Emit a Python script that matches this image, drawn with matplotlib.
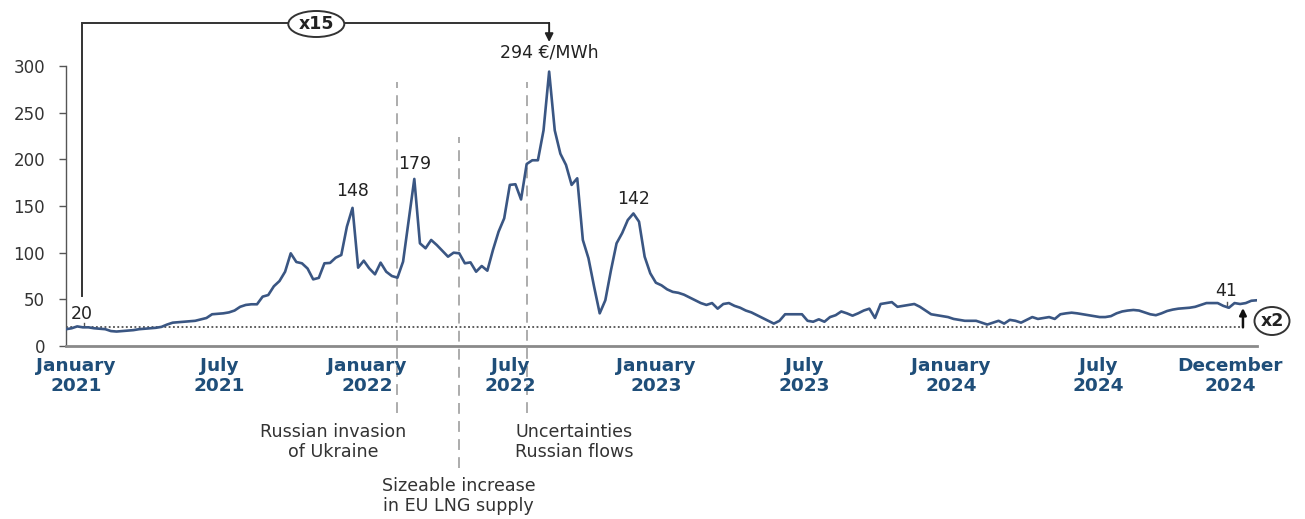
import matplotlib
matplotlib.use("Agg")
import matplotlib.pyplot as plt
from matplotlib.patches import Ellipse
import numpy as np

# Weekly TTF gas price (EUR/MWh), Jan 2021 - Dec 2024
prices = [
    18, 19, 21, 20, 20, 19, 18.5, 18, 16, 15.5, 16, 16.5, 17, 18, 18.5, 19, 19.5,
    20.5, 23, 25, 25.5, 26, 26.5, 27, 28.5, 30, 34, 34.5, 35, 36, 38, 42, 44,
    44.7, 44.7, 52.9, 54.6, 64, 69.6, 79.6, 99.3, 90, 88.6,
    83, 71.4, 73, 88.6, 89, 94.6, 97.5, 127.9, 148, 83.9,
    91.4, 83, 76.8, 89.3, 79.6, 75, 73.2, 90.4, 135, 179,
    110, 104.7, 113.6, 108.2, 102, 95.7, 100, 99.3, 88.6, 89.6,
    79.6, 85.7, 80.7, 102.9, 122.5, 136.8, 172.6, 173.3, 157, 195,
    199, 199, 231, 294, 231, 206, 194, 172.6, 179.7, 113.6,
    94, 63.6, 35, 49, 81, 110, 121, 135, 142, 133.2,
    95.7, 77.9, 67.8, 65, 60.7,
    58, 57, 55, 52, 49, 46, 44, 46, 40, 45,
    46, 43, 41, 38, 36, 33, 30, 27, 24, 27,
    34, 34, 34, 34, 27, 26, 28.6, 26, 31, 33,
    37, 35, 32.5, 35, 38, 40, 30, 45, 46, 47,
    42, 43, 44, 45, 42, 38, 34, 33, 32, 31,
    29, 28, 27, 27, 27, 25, 23, 25, 27, 24,
    28, 27, 25, 28, 31, 29, 30, 31, 29, 34,
    35, 35.7, 35, 34, 33, 32, 31, 31, 32, 35,
    37, 38, 38.6, 38, 36, 34, 33, 35, 37.5, 39,
    40, 40.5, 41, 42, 44, 46, 46, 46, 43, 41,
    46, 45, 46, 48.5, 49,
]

tick_pos = [1.8, 27.2, 53.6, 79.0, 105.0, 131.4, 157.5, 183.7, 207.2]
tick_labels = ["January\n2021", "July\n2021", "January\n2022", "July\n2022",
               "January\n2023", "July\n2023", "January\n2024", "July\n2024",
               "December\n2024"]

event_pos = [59.0, 69.9, 82.0]
event_labels = ["Russian invasion\nof Ukraine", "Sizeable increase\nin EU LNG supply",
                "Uncertainties\nRussian flows"]

baseline = 20
n = len(prices)
x = np.arange(n)

W, H = 1305, 519
fig = plt.figure(figsize=(W / 100, H / 100), dpi=100)
ax = fig.add_axes([66 / W, (H - 346) / H, 1191 / W, 280 / H])

line_color = "#3a5683"
ax.plot(x, prices, color=line_color, lw=1.9, solid_joinstyle="round", zorder=3)
ax.set_xlim(0, n - 1)
ax.set_ylim(0, 300)

# pixel helpers (data units)
ppx = 1191 / (n - 1)
ppy = 280 / 300

# axes styling
for s in ["top", "right"]:
    ax.spines[s].set_visible(False)
ax.spines["left"].set_color("#555555")
ax.spines["left"].set_linewidth(1.0)
ax.spines["bottom"].set_color("#8a8a8a")
ax.spines["bottom"].set_linewidth(2.0)
ax.set_yticks([0, 50, 100, 150, 200, 250, 300])
ax.tick_params(axis="y", length=5, width=1, color="#555555", labelsize=12,
               labelcolor="#333333", pad=10)
ax.set_xticks(tick_pos)
ax.set_xticklabels(tick_labels, fontsize=13.3, fontweight="bold", color="#1f4e79",
                   linespacing=1.1)
ax.tick_params(axis="x", length=0, pad=8)

# baseline dotted line
ax.plot([0, n - 1 - 2.5], [baseline, baseline], color="#333333", lw=1.1,
        ls=(0, (1.2, 1.6)), zorder=2)

# event dashed lines and labels
ev_top = [283, 224, 283]
ev_bot = [-72, -131, -72]
lab_y = [-82, -140, -82]
lab_dx = [-11.5, 0, 8.5]
for p, t, b, lab, ly, dx in zip(event_pos, ev_top, ev_bot, event_labels, lab_y, lab_dx):
    ax.plot([p, p], [b, t], color="#a6a6a6", lw=1.3, ls=(0, (6, 4)),
            clip_on=False, zorder=1)
    ax.text(p + dx, ly, lab, ha="center", va="top", fontsize=12.6, color="#333333",
            linespacing=1.2, clip_on=False)

# peak labels
arr = np.array(prices)
def label_at(i, txt, dy=6, dx=0):
    ax.text(i + dx, arr[i] + dy, txt, ha="center", va="bottom", fontsize=12.5,
            color="#222222")

i148 = int(np.argmax(arr[:55]))
i179 = 55 + int(np.argmax(arr[55:75]))
ipk = int(np.argmax(arr))
i142 = 95 + int(np.argmax(arr[95:115]))
label_at(i148, "148", dy=8)
label_at(i179, "179", dy=6)
label_at(i142, "142", dy=6)
ax.text(ipk, arr[ipk] + 11, "294 \u20ac/MWh", ha="center", va="bottom",
        fontsize=12.5, color="#222222")

# "20" label at start
i20 = 3
ax.text(i20 - 0.2, 25, "20", ha="center", va="bottom", fontsize=12.5, color="#222222")
ax.plot([i20 + 0.2, i20 + 0.2], [22, 25], color="#555555", lw=1, clip_on=False)

# "41" label at end
i41 = n - 6
ax.text(i41 - 0.5, arr[i41] + 8, "41", ha="center", va="bottom", fontsize=12.5,
        color="#222222")
ax.plot([i41 - 0.3, i41 - 0.3], [arr[i41] + 1, arr[i41] + 6], color="#555555", lw=1)

# top bracket x15
y_top = (346 - 23) / ppy
x_start = 2.9
ax.plot([x_start, x_start, ipk], [(346 - 296) / ppy, y_top, y_top], color="#333333",
        lw=1.4, clip_on=False, solid_joinstyle="miter")
ax.annotate("", xy=(ipk, (346 - 42) / ppy), xytext=(ipk, y_top),
            arrowprops=dict(arrowstyle="-|>", color="#222222", lw=1.4,
                            mutation_scale=12, shrinkA=0, shrinkB=0),
            annotation_clip=False)
xc15 = x_start + (316 - 82) / ppx
e = Ellipse((xc15, (346 - 24) / ppy), width=56 / ppx, height=26 / ppy,
            facecolor="white", edgecolor="#333333", lw=1.4, clip_on=False, zorder=5)
ax.add_patch(e)
ax.text(xc15, (346 - 24) / ppy, "x15", ha="center", va="center", fontsize=12.5,
        fontweight="bold", color="#222222", zorder=6, clip_on=False)

# x2 arrow and oval
xa = n - 1 - 2.5
ax.annotate("", xy=(xa, (346 - 308) / ppy), xytext=(xa, baseline),
            arrowprops=dict(arrowstyle="-|>", color="#111111", lw=1.8,
                            mutation_scale=10, shrinkA=0, shrinkB=0),
            annotation_clip=False)
xc2 = (1272 - 66) / ppx
e2 = Ellipse((xc2, (346 - 321) / ppy), width=35 / ppx, height=28 / ppy,
             facecolor="white", edgecolor="#333333", lw=1.4, clip_on=False, zorder=5)
ax.add_patch(e2)
ax.text(xc2, (346 - 321) / ppy, "x2", ha="center", va="center", fontsize=12.5,
        fontweight="bold", color="#222222", zorder=6, clip_on=False)

fig.savefig("out.png", dpi=100, facecolor="white")
